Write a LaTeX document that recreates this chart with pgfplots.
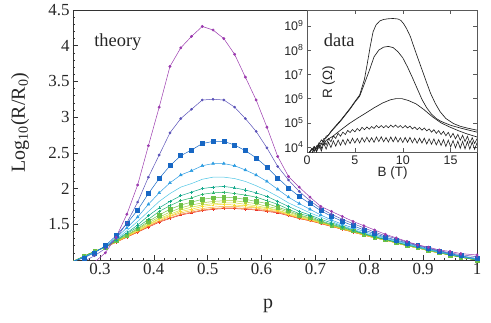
\documentclass[border=0pt]{standalone}
\usepackage{fontspec}
\setmainfont{Liberation Serif}
\newfontfamily\hv{Liberation Sans}
\usepackage{pgfplots}
\pgfplotsset{compat=1.18}
\usepackage{pgfplotstable}

\definecolor{cPu}{HTML}{9B3AAE}
\definecolor{cDb}{HTML}{5A52B8}
\definecolor{cBs}{HTML}{1767C4}
\definecolor{cCa}{HTML}{2E9DE2}
\definecolor{cCb}{HTML}{4CC4E4}
\definecolor{cCc}{HTML}{14A98C}
\definecolor{cCd}{HTML}{27B26C}
\definecolor{cCe}{HTML}{6EC046}
\definecolor{cCf}{HTML}{A8CF3E}
\definecolor{cCg}{HTML}{D6DE34}
\definecolor{cCh}{HTML}{F4DC2C}
\definecolor{cCi}{HTML}{F8B02C}
\definecolor{cCj}{HTML}{F47828}
\definecolor{cRd}{HTML}{EA2B25}

% theory curves, Log10(R/R0) vs p
\pgfplotstableread{
p    pu   db    bs    ca   cb   cc   cd   ce   cf   cg   ch   ci   cj   rd
0.25 0.62 0.90  0.98  0.98 0.98 0.98 0.98 0.98 0.98 0.98 0.98 0.98 0.98 0.98
0.27 0.78 0.98  1.03  1.04 1.04 1.04 1.05 1.05 1.05 1.05 1.05 1.05 1.05 1.05
0.29 0.97 1.06  1.10  1.11 1.11 1.11 1.12 1.12 1.12 1.12 1.12 1.12 1.12 1.12
0.31 1.10 1.16  1.20  1.19 1.19 1.19 1.18 1.18 1.18 1.18 1.18 1.18 1.18 1.18
0.33 1.32 1.30  1.34  1.31 1.29 1.28 1.27 1.27 1.26 1.26 1.26 1.25 1.25 1.25
0.35 1.64 1.52  1.51  1.45 1.41 1.38 1.37 1.35 1.34 1.34 1.33 1.33 1.32 1.32
0.37 2.05 1.81  1.70  1.60 1.54 1.49 1.46 1.44 1.43 1.42 1.41 1.40 1.39 1.39
0.39 2.60 2.16  1.93  1.78 1.68 1.62 1.57 1.54 1.52 1.50 1.49 1.48 1.47 1.46
0.41 3.14 2.47  2.14  1.94 1.82 1.73 1.68 1.63 1.60 1.58 1.57 1.55 1.54 1.53
0.43 3.71 2.78  2.32  2.08 1.93 1.82 1.76 1.71 1.67 1.64 1.62 1.61 1.59 1.58
0.45 3.97 2.98  2.46  2.19 2.02 1.90 1.83 1.77 1.73 1.70 1.68 1.66 1.64 1.63
0.47 4.13 3.11  2.54  2.25 2.07 1.95 1.87 1.81 1.77 1.74 1.71 1.69 1.67 1.66
0.49 4.27 3.24  2.63  2.32 2.13 2.00 1.92 1.85 1.80 1.77 1.75 1.72 1.70 1.69
0.51 4.22 3.25  2.66  2.35 2.16 2.02 1.94 1.87 1.82 1.79 1.77 1.74 1.72 1.71
0.53 4.10 3.24  2.66  2.35 2.16 2.03 1.95 1.88 1.83 1.80 1.78 1.75 1.73 1.72
0.55 3.88 3.14  2.61  2.32 2.14 2.01 1.93 1.87 1.83 1.80 1.77 1.75 1.73 1.72
0.57 3.56 2.98  2.53  2.26 2.10 1.98 1.91 1.85 1.81 1.78 1.76 1.74 1.72 1.71
0.59 3.24 2.80  2.43  2.19 2.04 1.94 1.88 1.82 1.79 1.76 1.74 1.73 1.71 1.70
0.61 2.86 2.57  2.30  2.10 1.97 1.89 1.83 1.79 1.75 1.73 1.72 1.70 1.69 1.68
0.63 2.45 2.31  2.15  1.99 1.89 1.82 1.78 1.74 1.72 1.70 1.69 1.68 1.67 1.66
0.65 2.17 2.12  2.01  1.88 1.80 1.75 1.71 1.69 1.67 1.65 1.64 1.63 1.63 1.62
0.67 2.02 1.96  1.89  1.79 1.73 1.68 1.65 1.63 1.62 1.61 1.60 1.59 1.58 1.58
0.69 1.88 1.83  1.79  1.71 1.66 1.63 1.61 1.59 1.58 1.57 1.56 1.56 1.55 1.55
0.71 1.75 1.72  1.69  1.63 1.60 1.57 1.55 1.54 1.53 1.53 1.52 1.52 1.51 1.51
0.73 1.68 1.64  1.61  1.56 1.54 1.52 1.50 1.49 1.49 1.48 1.48 1.48 1.47 1.47
0.75 1.61 1.57  1.54  1.50 1.48 1.47 1.46 1.45 1.44 1.44 1.44 1.43 1.43 1.43
0.77 1.54 1.51  1.48  1.45 1.43 1.42 1.41 1.41 1.40 1.40 1.40 1.39 1.39 1.39
0.79 1.48 1.45  1.42  1.40 1.38 1.37 1.37 1.36 1.36 1.36 1.35 1.35 1.35 1.35
0.81 1.42 1.39  1.37  1.35 1.34 1.33 1.32 1.32 1.32 1.31 1.31 1.31 1.31 1.31
0.83 1.36 1.34  1.32  1.31 1.30 1.29 1.29 1.29 1.28 1.28 1.28 1.28 1.28 1.28
0.85 1.31 1.30  1.28  1.27 1.26 1.25 1.25 1.25 1.24 1.24 1.24 1.24 1.24 1.24
0.87 1.26 1.25  1.24  1.23 1.22 1.21 1.21 1.21 1.20 1.20 1.20 1.20 1.20 1.20
0.89 1.21 1.21  1.20  1.19 1.18 1.18 1.18 1.18 1.17 1.17 1.17 1.17 1.17 1.17
0.91 1.18 1.17  1.16  1.15 1.14 1.14 1.14 1.14 1.13 1.13 1.13 1.13 1.13 1.13
0.93 1.14 1.13  1.125 1.12 1.11 1.11 1.11 1.10 1.10 1.10 1.10 1.10 1.10 1.10
0.95 1.12 1.10  1.09  1.08 1.08 1.08 1.07 1.07 1.07 1.07 1.07 1.07 1.07 1.07
0.97 1.09 1.075 1.06  1.05 1.05 1.05 1.04 1.04 1.04 1.04 1.04 1.04 1.04 1.04
1.00 1.07 1.045 1.02  1.01 1.01 1.01 1.00 1.00 1.00 1.00 1.00 1.00 1.00 1.00
}\theory

\begin{document}
\begin{tikzpicture}
\begin{axis}[name=main, scale only axis, width=404bp, height=250bp,
  xmin=0.25, xmax=1, ymin=1, ymax=4.5,
  tick pos=left, tick align=inside,
  xtick={0.3,0.4,0.5,0.6,0.7,0.8,0.9,1},
  xticklabels={0.3,0.4,0.5,0.6,0.7,0.8,0.9,1},
  minor xtick={0.26,0.28,...,0.99},
  ytick={1.5,2,2.5,3,3.5,4,4.5},
  yticklabels={1.5,2,2.5,3,3.5,4,4.5},
  minor ytick={1.1,1.2,...,4.45},
  major tick length=5bp, minor tick length=2.5bp,
  axis line style={draw=black!80, line width=0.6pt},
  every tick/.style={black!80, line width=0.5pt},
  ticklabel style={font=\fontsize{17}{17}\selectfont, text=black!85},
  xlabel={p}, ylabel={Log\textsubscript{10}(R/R\textsubscript{0})},
  label style={font=\fontsize{20}{20}\selectfont, text=black!85},
  xlabel style={at={(axis description cs:0.483,-0.184)}, anchor=center},
  ylabel style={at={(axis description cs:-0.131,0.55)}, anchor=center},
  every axis plot/.append style={line width=0.5pt},
]
\addplot[cRd, mark=+, mark size=1.5pt] table[x=p,y=rd]{\theory};
\addplot[cCj, mark=*, mark size=0.8pt] table[x=p,y=cj]{\theory};
\addplot[cCi, no marks] table[x=p,y=ci]{\theory};
\addplot[cCh, mark=+, mark size=1.3pt] table[x=p,y=ch]{\theory};
\addplot[cCg, no marks] table[x=p,y=cg]{\theory};
\addplot[cCf, mark=square*, mark size=1.1pt] table[x=p,y=cf]{\theory};
\addplot[cCe, mark=square*, mark size=1.8pt] table[x=p,y=ce]{\theory};
\addplot[cCd, mark=+, mark size=1.5pt] table[x=p,y=cd]{\theory};
\addplot[cCc, mark=+, mark size=1.6pt] table[x=p,y=cc]{\theory};
\addplot[cCb, no marks] table[x=p,y=cb]{\theory};
\addplot[cCa, mark=triangle*, mark size=1.6pt] table[x=p,y=ca]{\theory};
\addplot[cBs, mark=square*, mark size=2pt] table[x=p,y=bs]{\theory};
\addplot[cDb, mark=*, mark size=1.1pt] table[x=p,y=db]{\theory};
\addplot[cPu, mark=*, mark size=1.2pt] table[x=p,y=pu]{\theory};
\node[font=\fontsize{18.5}{18.5}\selectfont, text=black!85] at (axis description cs:0.111,0.872) {theory};
\end{axis}

\begin{axis}[at={(main.north east)}, anchor=north east,
  scale only axis, width=170bp, height=142bp,
  xmin=0, xmax=17.75, ymin=3.8, ymax=9.65,
  xtick={0,5,10,15}, xticklabels={0,5,10,15},
  ytick={4,5,6,7,8,9},
  yticklabels={10\textsuperscript{4},10\textsuperscript{5},10\textsuperscript{6},10\textsuperscript{7},10\textsuperscript{8},10\textsuperscript{9}},
  tick align=inside, major tick length=4bp,
  axis line style={draw=black!65, line width=0.5pt},
  every tick/.style={black!65, line width=0.5pt},
  ticklabel style={font=\hv\fontsize{12.5}{12.5}\selectfont, text=black!85},
  xlabel={B (T)}, ylabel={R (Ω)},
  label style={font=\hv\fontsize{13.5}{13.5}\selectfont, text=black!85},
  xlabel style={at={(axis description cs:0.504,-0.149)}, anchor=center},
  ylabel style={at={(axis description cs:0.127,0.49)}, anchor=center},
]
\addplot[black!88, line width=0.65pt] coordinates {(0.25,3.75)(0.5,3.95)(0.75,3.82)(1.0,4.05)(1.25,4.12)(1.5,4.3)(1.75,4.22)(2.0,4.45)(2.25,4.5)(2.5,4.65)(3.0,4.88)(3.5,5.1)(4.0,5.35)(4.5,5.6)(5.0,5.88)(5.5,6.15)(6.0,6.8)(6.3,7.45)(6.6,8.15)(6.9,8.75)(7.2,9.03)(7.6,9.2)(8.0,9.26)(8.5,9.29)(9.0,9.3)(9.5,9.28)(9.8,9.22)(10.1,9.08)(10.4,8.88)(10.8,8.55)(11.1,8.2)(11.5,7.75)(12.0,7.2)(12.5,6.65)(12.9,6.22)(13.4,5.8)(13.9,5.46)(14.5,5.18)(15.3,4.97)(16.0,4.86)(16.8,4.78)(17.75,4.70)};
\addplot[black!88, line width=0.65pt] coordinates {(0.25,3.8)(0.5,3.9)(0.75,4.02)(1.0,3.92)(1.25,4.18)(1.5,4.12)(1.75,4.35)(2.0,4.38)(2.5,4.63)(3.0,4.85)(3.5,5.07)(4.0,5.32)(4.5,5.57)(5.0,5.85)(5.5,6.1)(6.0,6.62)(6.5,7.15)(7.0,7.72)(7.5,8.0)(8.0,8.12)(8.5,8.15)(9.0,8.1)(9.5,7.93)(10.0,7.68)(10.5,7.3)(11.0,6.87)(11.5,6.42)(12.0,5.97)(12.5,5.62)(13.0,5.36)(13.5,5.18)(14.0,5.06)(15.0,4.9)(16.0,4.79)(17.0,4.69)(17.75,4.62)};
\addplot[black!88, line width=0.65pt] coordinates {(0.25,3.78)(0.5,3.92)(0.75,3.85)(1.0,4.02)(1.25,3.95)(1.5,4.15)(1.75,4.1)(2.0,4.28)(2.7,4.45)(3.5,4.7)(4.4,4.97)(5.3,5.2)(6.2,5.42)(7.0,5.62)(7.9,5.82)(8.7,5.95)(9.3,6.0)(9.9,6.0)(10.6,5.92)(11.4,5.78)(12.2,5.55)(13.1,5.25)(14.0,5.0)(14.9,4.83)(15.8,4.68)(16.6,4.56)(17.75,4.42)};
\addplot[black!88, line width=0.6pt] coordinates {(0.25,3.77)(0.5,3.70)(0.75,4.02)(1.0,3.83)(1.25,4.11)(1.5,3.95)(1.75,4.26)(2.0,4.09)(2.25,4.35)(2.5,4.22)(2.75,4.46)(3.0,4.36)(3.25,4.57)(3.5,4.45)(3.75,4.62)(4.0,4.52)(4.25,4.69)(4.5,4.60)(4.75,4.73)(5.0,4.63)(5.25,4.77)(5.5,4.67)(5.75,4.82)(6.0,4.72)(6.25,4.83)(6.5,4.74)(6.75,4.85)(7.0,4.77)(7.25,4.89)(7.5,4.80)(7.75,4.89)(8.0,4.80)(8.25,4.89)(8.5,4.80)(8.75,4.91)(9.0,4.82)(9.25,4.91)(9.5,4.81)(9.75,4.89)(10.0,4.79)(10.25,4.89)(10.5,4.79)(10.75,4.87)(11.0,4.75)(11.25,4.83)(11.5,4.72)(11.75,4.81)(12.0,4.70)(12.25,4.79)(12.5,4.67)(12.75,4.75)(13.0,4.62)(13.25,4.72)(13.5,4.57)(13.75,4.68)(14.0,4.52)(14.25,4.65)(14.5,4.47)(14.75,4.61)(15.0,4.40)(15.25,4.57)(15.5,4.34)(15.75,4.53)(16.0,4.28)(16.25,4.49)(16.5,4.23)(16.75,4.45)(17.0,4.17)(17.25,4.39)(17.5,4.15)(17.75,4.35)};
\addplot[black!88, line width=0.6pt] coordinates {(0.25,3.80)(0.5,3.65)(0.75,4.02)(1.0,3.80)(1.25,4.10)(1.5,3.84)(1.75,4.16)(2.0,3.92)(2.25,4.20)(2.5,3.98)(2.75,4.26)(3.0,4.04)(3.25,4.29)(3.5,4.08)(3.75,4.31)(4.0,4.10)(4.25,4.33)(4.5,4.15)(4.75,4.37)(5.0,4.17)(5.25,4.36)(5.5,4.17)(5.75,4.39)(6.0,4.21)(6.25,4.41)(6.5,4.21)(6.75,4.39)(7.0,4.20)(7.25,4.42)(7.5,4.23)(7.75,4.43)(8.0,4.22)(8.25,4.40)(8.5,4.21)(8.75,4.42)(9.0,4.22)(9.25,4.42)(9.5,4.21)(9.75,4.39)(10.0,4.19)(10.25,4.40)(10.5,4.20)(10.75,4.40)(11.0,4.18)(11.25,4.37)(11.5,4.16)(11.75,4.37)(12.0,4.17)(12.25,4.37)(12.5,4.13)(12.75,4.34)(13.0,4.12)(13.25,4.34)(13.5,4.09)(13.75,4.31)(14.0,4.07)(14.25,4.31)(14.5,4.03)(14.75,4.29)(15.0,4.01)(15.25,4.27)(15.5,3.97)(15.75,4.25)(16.0,3.95)(16.25,4.24)(16.5,3.93)(16.75,4.23)(17.0,3.92)(17.25,4.21)(17.5,3.91)(17.75,4.18)};
\node[font=\fontsize{18.5}{18.5}\selectfont, text=black!85] at (axis description cs:0.19,0.79) {data};
\end{axis}
\pgfresetboundingbox
\path (main.south west) ++(-73bp,-63bp) rectangle ++(491bp,323bp);
\end{tikzpicture}
\end{document}
